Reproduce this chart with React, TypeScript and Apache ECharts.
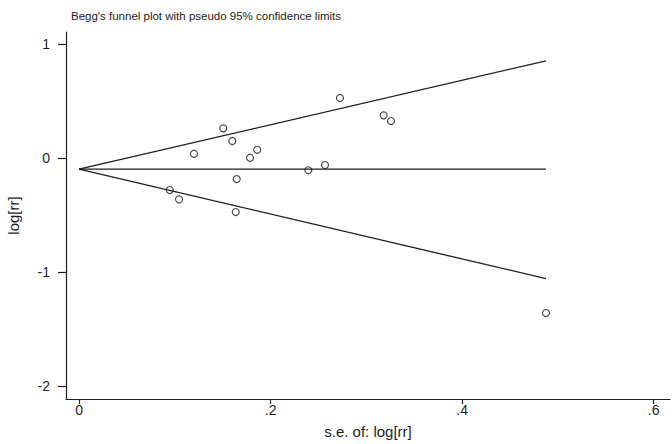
import React, { useEffect, useRef } from "react";
import * as echarts from "echarts";

// Study data
const seLogRR = [0.1506, 0.160, 0.120, 0.1785, 0.186, 0.1646, 0.0947, 0.1044, 0.1636, 0.2724, 0.318, 0.3257, 0.2394, 0.2568, 0.4875];
const logRR = [0.263, 0.152, 0.040, 0.005, 0.075, -0.182, -0.278, -0.360, -0.471, 0.529, 0.377, 0.327, -0.105, -0.059, -1.357];

// Funnel (pseudo 95% confidence limits) endpoints
const funnelSe = [0, 0.4875];
const upperLimit = [-0.095, 0.855];
const lowerLimit = [-0.095, -1.055];
const pooledLine = [-0.095, -0.095];

const xTicks = [0, 0.2, 0.4, 0.6];
const xTickLabels = ["0", ".2", ".4", ".6"];
const yTicks = [-2, -1, 0, 1];
const yTickLabels = ["-2", "-1", "0", "1"];

const FONT = "'Liberation Sans', Arial, sans-serif";
const INK = "#1e1e1e";

export default function App() {
  const ref = useRef<HTMLDivElement>(null);
  useEffect(() => {
    if (!ref.current) return;
    const chart = echarts.init(ref.current, undefined, { renderer: "svg" });
    const pts = seLogRR.map((s, i) => [s, logRR[i]]);
    const mk = (ys: number[]) => funnelSe.map((s, i) => [s, ys[i]]);
    const lineStyle = { color: INK, width: 1.3 };
    chart.setOption({
      animation: false,
      backgroundColor: "#fff",
      title: {
        text: "Begg's funnel plot with pseudo 95% confidence limits",
        left: 66,
        top: 5,
        textStyle: { fontFamily: FONT, fontSize: 11.5, fontWeight: "normal", color: INK },
      },
      grid: { left: 66, top: 32, right: 2, bottom: 45, containLabel: false, outerBoundsMode: "none" },
      xAxis: {
        type: "value",
        min: -0.0136,
        max: 0.617,
        splitLine: { show: false },
        axisLine: { show: true, onZero: false, lineStyle: { color: INK, width: 1.2 } },
        axisTick: { show: true, customValues: xTicks, length: 5, lineStyle: { color: INK, width: 1.2 } },
        axisLabel: {
          customValues: xTicks,
          formatter: (v: number) => xTickLabels[xTicks.findIndex((t) => Math.abs(t - v) < 1e-9)] ?? "",
          fontFamily: FONT,
          fontSize: 14,
          color: INK,
          margin: 4,
        },
        name: "s.e. of: log[rr]",
        nameLocation: "middle",
        nameGap: 25,
        nameTextStyle: { fontFamily: FONT, fontSize: 15, color: INK, verticalAlign: "top" },
      },
      yAxis: {
        type: "value",
        min: -2.111,
        max: 1.108,
        splitLine: { show: false },
        axisLine: { show: true, onZero: false, lineStyle: { color: INK, width: 1.2 } },
        axisTick: { show: true, customValues: yTicks, length: 8, lineStyle: { color: INK, width: 1.2 } },
        axisLabel: {
          customValues: yTicks,
          formatter: (v: number) => yTickLabels[yTicks.findIndex((t) => Math.abs(t - v) < 1e-9)] ?? "",
          fontFamily: FONT,
          fontSize: 14,
          color: INK,
          margin: 16,
        },
        name: "log[rr]",
        nameLocation: "middle",
        nameGap: 53,
        nameTextStyle: { fontFamily: FONT, fontSize: 15, color: INK, verticalAlign: "middle" },
      },
      series: [
        { type: "line", data: mk(upperLimit), symbol: "none", lineStyle, z: 2 },
        { type: "line", data: mk(lowerLimit), symbol: "none", lineStyle, z: 2 },
        { type: "line", data: mk(pooledLine), symbol: "none", lineStyle, z: 2 },
        {
          type: "scatter",
          data: pts,
          symbol: "circle",
          symbolSize: 7,
          itemStyle: { color: "rgba(0,0,0,0)", borderColor: INK, borderWidth: 1.2 },
          z: 3,
        },
      ],
    });
    return () => chart.dispose();
  }, []);
  return <div ref={ref} style={{ width: 672, height: 444, position: "absolute", left: 0, top: 0 }} />;
}
